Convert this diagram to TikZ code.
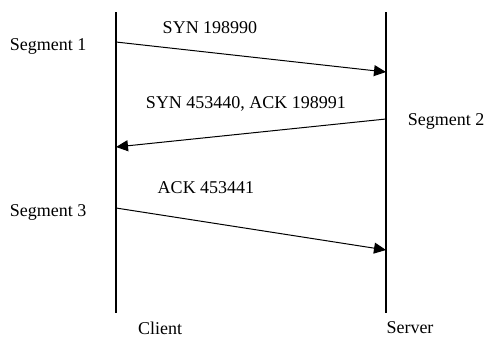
\documentclass[tikz,border=0pt]{standalone}
\usepackage{fontspec}
\setmainfont{Liberation Serif}
\usetikzlibrary{arrows.meta}
\begin{document}
\begin{tikzpicture}[x=1pt,y=-1pt,
  lbl/.style={font=\fontsize{18}{22}\selectfont, inner sep=0pt},
  life/.style={line width=1.8pt},
  msg/.style={line width=1pt, -{Triangle[length=12pt,width=11pt]}}]
\useasboundingbox (0,0) rectangle (488,338);
\coordinate (ctop) at (116,12);
\coordinate (cbot) at (116,313);
\coordinate (stop) at (386,12);
\coordinate (sbot) at (386,313);
\draw[life] (ctop) -- (cbot);
\draw[life] (stop) -- (sbot);
\coordinate (a1) at (116,42);
\coordinate (b1) at (386,72);
\coordinate (a2) at (386,119);
\coordinate (b2) at (116,147);
\coordinate (a3) at (116,208);
\coordinate (b3) at (386,250);
\draw[msg] (a1) -- (b1);
\draw[msg] (a2) -- (b2);
\draw[msg] (a3) -- (b3);
\node[lbl] (t1) at (210,28) {SYN 198990};
\node[lbl] (t2) at (246,104) {SYN 453440, ACK 198991};
\node[lbl] (t3) at (206,188) {ACK 453441};
\node[lbl] (s1) at (48,46) {Segment 1};
\node[lbl] (s2) at (446,121) {Segment 2};
\node[lbl] (s3) at (48,212) {Segment 3};
\node[lbl] (cl) at (160,328) {Client};
\node[lbl] (sv) at (410,328) {Server};
\end{tikzpicture}
\end{document}
